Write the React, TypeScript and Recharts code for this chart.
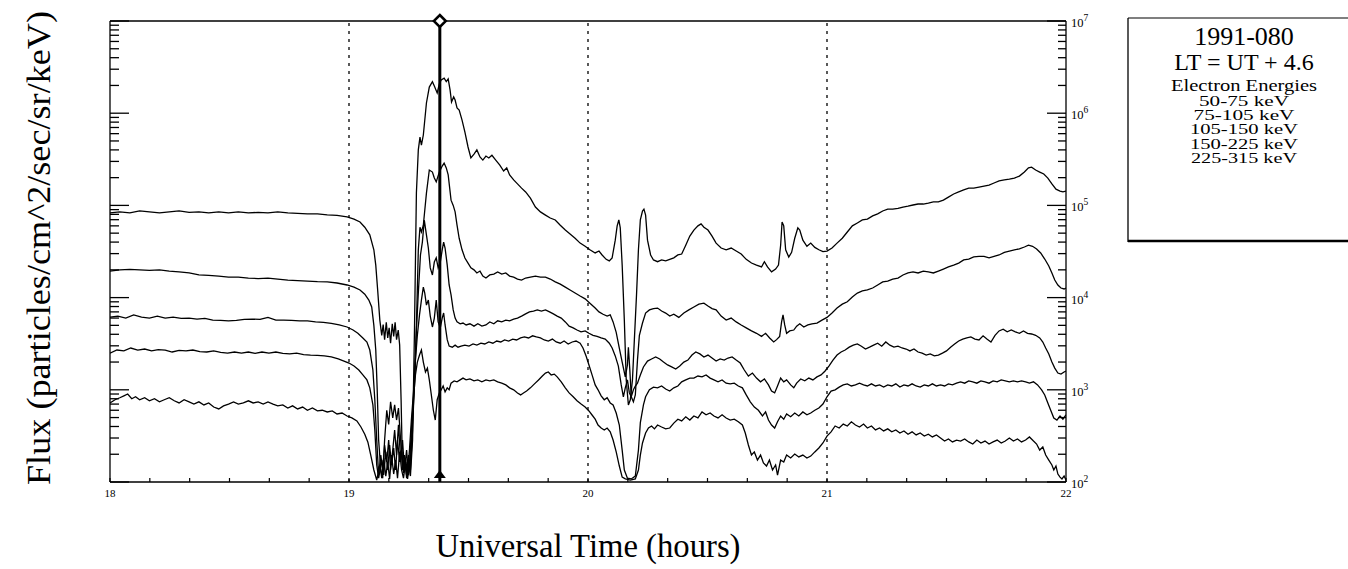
import React from "react";
import {
  LineChart,
  Line,
  XAxis,
  YAxis,
  ReferenceLine,
  ReferenceDot,
} from "recharts";

type Pt = [number, number];

// [UT hours, flux]
const S1_50_75: Pt[] = [[18.000,8.3e4],[18.041,8.5e4],[18.083,8.3e4],[18.124,8.7e4],[18.165,8.5e4],[18.207,8.3e4],[18.248,8.5e4],[18.289,8.7e4],[18.331,8.4e4],[18.372,8.5e4],[18.413,8.3e4],[18.455,8.5e4],[18.496,8.3e4],[18.537,8.5e4],[18.579,8.3e4],[18.620,8.4e4],[18.661,8.3e4],[18.702,8.5e4],[18.744,8.3e4],[18.785,8.2e4],[18.826,8.1e4],[18.868,8.1e4],[18.909,7.9e4],[18.950,7.8e4],[18.992,7.5e4],[19.021,7.1e4],[19.046,6.6e4],[19.066,5.8e4],[19.087,4.8e4],[19.104,3.3e4],[19.112,2.25e4],[19.120,1.2e4],[19.129,5.7e3],[19.137,3.9e3],[19.143,5.1e3],[19.149,3.5e3],[19.156,5.4e3],[19.162,3.65e3],[19.168,4.7e3],[19.174,3.2e3],[19.181,5.2e3],[19.187,3.8e3],[19.193,5.4e3],[19.199,3.5e3],[19.206,4.45e3],[19.212,3.05e3],[19.218,776],[19.224,135],[19.232,196],[19.241,110],[19.249,165],[19.257,116],[19.266,285],[19.274,4.5e3],[19.282,1.36e5],[19.290,4.0e5],[19.297,5.5e5],[19.303,4.5e5],[19.311,5.8e5],[19.324,1.29e6],[19.336,1.92e6],[19.349,2.2e6],[19.357,1.97e6],[19.369,1.66e6],[19.378,2.07e6],[19.386,2.3e6],[19.398,2.4e6],[19.407,2.2e6],[19.415,2.35e6],[19.423,1.78e6],[19.429,1.32e6],[19.438,1.5e6],[19.444,1.39e6],[19.452,1.14e6],[19.461,1.08e6],[19.473,8.4e5],[19.485,6.25e5],[19.498,4.3e5],[19.510,3.27e5],[19.523,3.6e5],[19.535,4.0e5],[19.548,3.35e5],[19.560,3.1e5],[19.573,3.43e5],[19.585,3.27e5],[19.598,3.5e5],[19.614,3.1e5],[19.631,2.74e5],[19.647,2.36e5],[19.660,2.55e5],[19.672,2.14e5],[19.689,1.89e5],[19.705,1.71e5],[19.722,1.54e5],[19.739,1.4e5],[19.759,1.2e5],[19.780,9.6e4],[19.801,8.5e4],[19.822,7.85e4],[19.842,7.3e4],[19.863,6.95e4],[19.884,6.1e4],[19.905,5.4e4],[19.925,4.9e4],[19.946,4.4e4],[19.967,3.9e4],[19.988,3.6e4],[20.008,3.3e4],[20.030,3.05e4],[20.046,3.2e4],[20.059,2.9e4],[20.076,2.6e4],[20.089,2.5e4],[20.101,2.7e4],[20.114,4.2e4],[20.122,6.0e4],[20.129,6.95e4],[20.135,5.7e4],[20.143,2.25e4],[20.152,5.7e3],[20.160,1.28e3],[20.169,685],[20.177,780],[20.186,1.28e3],[20.194,3.5e3],[20.203,1.07e4],[20.211,3.3e4],[20.219,6.95e4],[20.228,8.7e4],[20.234,9.1e4],[20.241,7.85e4],[20.249,4.2e4],[20.262,2.9e4],[20.274,2.56e4],[20.291,2.45e4],[20.308,2.56e4],[20.325,2.5e4],[20.342,2.6e4],[20.359,2.7e4],[20.376,2.9e4],[20.392,2.97e4],[20.409,3.7e4],[20.426,4.65e4],[20.443,5.4e4],[20.460,6.0e4],[20.473,6.3e4],[20.485,5.8e4],[20.502,5.4e4],[20.519,4.65e4],[20.536,3.9e4],[20.557,3.45e4],[20.578,3.3e4],[20.599,3.45e4],[20.620,3.2e4],[20.641,2.97e4],[20.662,2.6e4],[20.684,2.37e4],[20.705,2.25e4],[20.726,2.15e4],[20.738,2.45e4],[20.751,2.15e4],[20.768,1.9e4],[20.785,2.04e4],[20.797,2.25e4],[20.806,3.7e4],[20.812,6.6e4],[20.819,6.0e4],[20.827,3.3e4],[20.840,2.75e4],[20.852,3.1e4],[20.865,4.4e4],[20.878,5.7e4],[20.886,5.4e4],[20.899,4.2e4],[20.916,3.6e4],[20.932,3.9e4],[20.949,3.5e4],[20.966,3.3e4],[20.983,3.15e4],[21.000,3.2e4],[21.021,3.45e4],[21.042,3.9e4],[21.064,4.4e4],[21.085,5.15e4],[21.106,6.0e4],[21.127,6.45e4],[21.148,6.95e4],[21.169,7.1e4],[21.191,7.7e4],[21.212,8.1e4],[21.233,8.7e4],[21.254,9.1e4],[21.275,9.1e4],[21.297,9.3e4],[21.318,9.6e4],[21.339,9.8e4],[21.360,1.01e5],[21.381,1.035e5],[21.403,1.035e5],[21.424,1.06e5],[21.445,1.09e5],[21.466,1.09e5],[21.487,1.14e5],[21.508,1.23e5],[21.530,1.33e5],[21.551,1.4e5],[21.572,1.47e5],[21.593,1.54e5],[21.614,1.54e5],[21.636,1.58e5],[21.657,1.62e5],[21.678,1.66e5],[21.699,1.75e5],[21.720,1.84e5],[21.742,1.89e5],[21.763,1.93e5],[21.784,1.98e5],[21.805,2.08e5],[21.826,2.3e5],[21.843,2.55e5],[21.856,2.6e5],[21.873,2.42e5],[21.890,2.3e5],[21.907,2.19e5],[21.924,1.98e5],[21.941,1.71e5],[21.958,1.5e5],[21.975,1.43e5],[21.987,1.4e5],[22.000,1.43e5]];

const S2_75_105: Pt[] = [[18.000,1.94e4],[18.041,2.0e4],[18.083,2.02e4],[18.124,2.0e4],[18.165,1.97e4],[18.207,2.0e4],[18.248,1.94e4],[18.289,1.9e4],[18.331,1.85e4],[18.372,1.76e4],[18.413,1.74e4],[18.455,1.71e4],[18.496,1.67e4],[18.537,1.67e4],[18.579,1.63e4],[18.620,1.61e4],[18.661,1.63e4],[18.702,1.59e4],[18.744,1.55e4],[18.785,1.53e4],[18.826,1.51e4],[18.868,1.49e4],[18.909,1.48e4],[18.950,1.44e4],[18.992,1.37e4],[19.021,1.3e4],[19.046,1.21e4],[19.066,1.09e4],[19.083,9.4e3],[19.095,7.9e3],[19.104,5.0e3],[19.112,2.7e3],[19.118,1.0e3],[19.124,285],[19.133,135],[19.141,110],[19.149,285],[19.158,600],[19.166,420],[19.174,740],[19.183,495],[19.191,685],[19.199,470],[19.207,635],[19.216,285],[19.224,135],[19.232,173],[19.241,119],[19.249,196],[19.257,135],[19.266,367],[19.274,1.28e3],[19.282,4.8e3],[19.290,3.3e4],[19.297,5.8e4],[19.303,5.15e4],[19.311,6.1e4],[19.324,1.36e5],[19.336,2.42e5],[19.349,2.3e5],[19.357,1.98e5],[19.365,1.8e5],[19.378,2.3e5],[19.390,2.67e5],[19.398,2.88e5],[19.407,2.55e5],[19.415,2.14e5],[19.427,1.14e5],[19.436,1.0e5],[19.444,8.5e4],[19.452,6.1e4],[19.461,4.4e4],[19.473,3.3e4],[19.485,2.69e4],[19.498,2.37e4],[19.510,2.1e4],[19.523,2.0e4],[19.535,1.85e4],[19.548,1.94e4],[19.560,1.71e4],[19.573,1.63e4],[19.589,1.76e4],[19.606,1.8e4],[19.622,1.9e4],[19.639,1.8e4],[19.656,1.85e4],[19.672,1.71e4],[19.689,1.67e4],[19.705,1.59e4],[19.722,1.55e4],[19.739,1.63e4],[19.759,1.67e4],[19.780,1.71e4],[19.801,1.67e4],[19.822,1.67e4],[19.842,1.59e4],[19.863,1.48e4],[19.884,1.4e4],[19.905,1.3e4],[19.925,1.21e4],[19.946,1.12e4],[19.967,1.04e4],[19.988,9.7e3],[20.008,8.7e3],[20.030,7.7e3],[20.046,7.0e3],[20.063,6.6e3],[20.080,6.3e3],[20.093,6.5e3],[20.105,5.45e3],[20.118,4.2e3],[20.131,2.84e3],[20.143,2.0e3],[20.156,1.38e3],[20.165,1.86e3],[20.169,2.9e3],[20.175,1.64e3],[20.181,840],[20.190,740],[20.198,880],[20.207,2.1e3],[20.215,3.9e3],[20.228,5.3e3],[20.241,6.8e3],[20.257,7.35e3],[20.274,7.6e3],[20.291,7.7e3],[20.308,7.15e3],[20.325,6.8e3],[20.342,6.3e3],[20.359,6.6e3],[20.380,6.1e3],[20.401,6.8e3],[20.422,7.35e3],[20.443,7.9e3],[20.464,8.5e3],[20.485,8.7e3],[20.502,8.1e3],[20.519,7.6e3],[20.536,7.35e3],[20.557,6.3e3],[20.578,5.7e3],[20.599,6.0e3],[20.620,5.45e3],[20.641,5.05e3],[20.662,4.7e3],[20.684,4.35e3],[20.705,4.1e3],[20.726,3.8e3],[20.743,4.1e3],[20.760,3.65e3],[20.777,3.3e3],[20.789,3.5e3],[20.802,3.8e3],[20.810,5.45e3],[20.816,6.5e3],[20.823,5.05e3],[20.831,4.1e3],[20.844,4.35e3],[20.861,4.45e3],[20.873,4.9e3],[20.886,5.2e3],[20.903,4.8e3],[20.920,5.05e3],[20.937,5.2e3],[20.958,5.3e3],[20.979,5.7e3],[21.000,6.1e3],[21.021,6.8e3],[21.042,7.7e3],[21.064,8.5e3],[21.085,9.0e3],[21.106,1.015e4],[21.127,1.12e4],[21.148,1.18e4],[21.169,1.21e4],[21.191,1.27e4],[21.212,1.37e4],[21.233,1.48e4],[21.254,1.51e4],[21.275,1.59e4],[21.297,1.63e4],[21.318,1.76e4],[21.339,1.85e4],[21.360,1.9e4],[21.381,1.85e4],[21.403,1.94e4],[21.424,1.9e4],[21.445,1.85e4],[21.466,1.94e4],[21.487,2.04e4],[21.508,2.15e4],[21.530,2.25e4],[21.551,2.37e4],[21.572,2.56e4],[21.593,2.62e4],[21.614,2.76e4],[21.636,2.8e4],[21.657,2.8e4],[21.678,2.7e4],[21.699,2.8e4],[21.720,2.9e4],[21.742,3.1e4],[21.763,3.2e4],[21.784,3.3e4],[21.805,3.37e4],[21.826,3.54e4],[21.843,3.7e4],[21.860,3.6e4],[21.877,3.37e4],[21.894,3.05e4],[21.911,2.62e4],[21.928,2.2e4],[21.941,1.85e4],[21.953,1.55e4],[21.966,1.37e4],[21.979,1.27e4],[21.992,1.24e4],[22.000,1.27e4]];

const S3_105_150: Pt[] = [[18.000,6.15e3],[18.033,6.3e3],[18.066,6.0e3],[18.099,6.5e3],[18.132,6.15e3],[18.165,6.0e3],[18.198,6.3e3],[18.231,6.0e3],[18.264,6.15e3],[18.298,5.95e3],[18.331,6.0e3],[18.364,5.85e3],[18.397,5.95e3],[18.430,5.7e3],[18.463,5.65e3],[18.496,5.6e3],[18.529,5.65e3],[18.562,5.8e3],[18.595,5.85e3],[18.628,5.8e3],[18.661,6.1e3],[18.694,5.7e3],[18.727,5.7e3],[18.760,5.65e3],[18.793,5.6e3],[18.826,5.6e3],[18.860,5.45e3],[18.893,5.4e3],[18.926,5.25e3],[18.959,5.05e3],[18.992,4.8e3],[19.017,4.45e3],[19.037,4.1e3],[19.058,3.65e3],[19.075,3.3e3],[19.087,2.7e3],[19.100,1.64e3],[19.108,780],[19.116,285],[19.124,119],[19.133,196],[19.141,135],[19.149,252],[19.158,165],[19.166,285],[19.174,135],[19.183,222],[19.191,367],[19.199,196],[19.207,417],[19.216,173],[19.224,285],[19.232,135],[19.241,222],[19.249,119],[19.257,173],[19.266,470],[19.274,1.13e3],[19.282,4.45e3],[19.290,1.12e4],[19.299,2.9e4],[19.307,4.0e4],[19.315,6.95e4],[19.324,4.8e4],[19.332,3.45e4],[19.340,2.1e4],[19.349,1.76e4],[19.357,2.43e4],[19.365,2.7e4],[19.373,2.1e4],[19.382,2.43e4],[19.390,3.3e4],[19.396,4.0e4],[19.402,3.45e4],[19.411,2.25e4],[19.419,1.37e4],[19.427,1.07e4],[19.436,7.35e3],[19.444,6.0e3],[19.452,5.45e3],[19.465,5.2e3],[19.477,5.3e3],[19.490,5.05e3],[19.506,5.2e3],[19.523,4.9e3],[19.539,5.2e3],[19.556,4.9e3],[19.573,5.05e3],[19.589,5.45e3],[19.606,5.2e3],[19.622,5.6e3],[19.639,5.45e3],[19.656,5.7e3],[19.672,5.6e3],[19.689,5.85e3],[19.705,6.0e3],[19.722,6.3e3],[19.739,6.65e3],[19.755,7.0e3],[19.772,7.15e3],[19.788,7.35e3],[19.805,7.15e3],[19.822,7.35e3],[19.839,7.0e3],[19.855,6.65e3],[19.871,6.3e3],[19.888,6.0e3],[19.905,5.45e3],[19.921,4.9e3],[19.938,4.7e3],[19.954,4.45e3],[19.971,4.25e3],[19.988,4.35e3],[20.004,4.1e3],[20.021,3.9e3],[20.038,3.8e3],[20.055,3.65e3],[20.072,3.55e3],[20.089,3.2e3],[20.101,2.84e3],[20.114,2.33e3],[20.127,1.81e3],[20.139,1.13e3],[20.148,840],[20.156,1.05e3],[20.165,1.28e3],[20.173,925],[20.181,840],[20.190,1.0e3],[20.198,1.1e3],[20.207,1.18e3],[20.219,1.45e3],[20.232,1.77e3],[20.249,2.05e3],[20.266,2.16e3],[20.283,2.27e3],[20.300,2.16e3],[20.316,2.0e3],[20.333,1.86e3],[20.350,1.77e3],[20.367,1.68e3],[20.384,1.81e3],[20.401,2.0e3],[20.418,2.1e3],[20.435,2.38e3],[20.451,2.57e3],[20.468,2.45e3],[20.485,2.27e3],[20.502,2.38e3],[20.519,2.21e3],[20.536,2.05e3],[20.553,2.16e3],[20.570,2.1e3],[20.586,2.21e3],[20.603,2.27e3],[20.620,2.1e3],[20.637,1.95e3],[20.654,1.64e3],[20.671,1.41e3],[20.688,1.52e3],[20.705,1.34e3],[20.722,1.22e3],[20.738,1.31e3],[20.755,1.13e3],[20.768,970],[20.781,925],[20.793,1.1e3],[20.806,1.34e3],[20.819,1.22e3],[20.831,1.28e3],[20.848,1.13e3],[20.861,1.05e3],[20.873,1.18e3],[20.890,1.31e3],[20.907,1.25e3],[20.924,1.34e3],[20.941,1.28e3],[20.958,1.38e3],[20.975,1.45e3],[20.992,1.6e3],[21.008,1.81e3],[21.025,2.1e3],[21.042,2.38e3],[21.059,2.57e3],[21.076,2.7e3],[21.093,2.9e3],[21.110,3.05e3],[21.127,3.14e3],[21.144,2.97e3],[21.161,2.77e3],[21.178,2.9e3],[21.195,3.05e3],[21.212,3.2e3],[21.229,2.97e3],[21.246,3.3e3],[21.263,3.05e3],[21.280,2.9e3],[21.297,2.97e3],[21.314,2.84e3],[21.331,2.77e3],[21.347,2.64e3],[21.364,2.77e3],[21.381,2.57e3],[21.398,2.5e3],[21.415,2.38e3],[21.432,2.45e3],[21.449,2.33e3],[21.466,2.38e3],[21.483,2.5e3],[21.500,2.64e3],[21.517,2.9e3],[21.534,3.14e3],[21.551,3.38e3],[21.568,3.55e3],[21.585,3.65e3],[21.602,3.74e3],[21.619,3.55e3],[21.636,3.47e3],[21.653,3.85e3],[21.669,3.55e3],[21.686,3.3e3],[21.703,3.9e3],[21.720,4.35e3],[21.737,4.55e3],[21.754,4.25e3],[21.771,4.45e3],[21.788,4.25e3],[21.805,4.1e3],[21.822,4.35e3],[21.839,4.1e3],[21.856,4.03e3],[21.873,3.9e3],[21.890,3.65e3],[21.903,3.3e3],[21.915,2.84e3],[21.928,2.45e3],[21.941,2.0e3],[21.953,1.72e3],[21.966,1.52e3],[21.979,1.48e3],[21.992,1.56e3],[22.000,1.6e3]];

const S4_150_225: Pt[] = [[18.000,2.5e3],[18.029,2.7e3],[18.058,2.64e3],[18.087,2.84e3],[18.116,2.7e3],[18.145,2.77e3],[18.174,2.64e3],[18.202,2.73e3],[18.231,2.7e3],[18.260,2.57e3],[18.289,2.67e3],[18.318,2.64e3],[18.347,2.7e3],[18.376,2.6e3],[18.405,2.57e3],[18.434,2.64e3],[18.463,2.55e3],[18.492,2.5e3],[18.521,2.57e3],[18.550,2.5e3],[18.579,2.57e3],[18.607,2.48e3],[18.636,2.57e3],[18.665,2.5e3],[18.694,2.57e3],[18.723,2.48e3],[18.752,2.45e3],[18.781,2.5e3],[18.810,2.41e3],[18.839,2.38e3],[18.868,2.36e3],[18.897,2.33e3],[18.926,2.27e3],[18.955,2.16e3],[18.979,2.05e3],[19.000,1.95e3],[19.021,1.81e3],[19.041,1.64e3],[19.058,1.45e3],[19.075,1.28e3],[19.087,1.05e3],[19.100,685],[19.108,367],[19.116,153],[19.124,110],[19.137,173],[19.145,119],[19.154,212],[19.162,135],[19.170,252],[19.178,153],[19.187,234],[19.195,135],[19.203,285],[19.212,165],[19.220,222],[19.228,125],[19.237,182],[19.245,116],[19.253,222],[19.261,470],[19.270,950],[19.278,2.1e3],[19.286,3.9e3],[19.295,6.5e3],[19.303,9.4e3],[19.311,1.3e4],[19.317,1.12e4],[19.324,8.3e3],[19.332,9.4e3],[19.340,6.3e3],[19.349,4.8e3],[19.357,6.0e3],[19.365,9.4e3],[19.373,5.45e3],[19.382,4.7e3],[19.390,6.0e3],[19.396,6.8e3],[19.402,5.05e3],[19.411,3.5e3],[19.419,2.98e3],[19.432,2.9e3],[19.444,3.05e3],[19.456,2.9e3],[19.469,2.98e3],[19.485,3.05e3],[19.502,2.98e3],[19.519,3.14e3],[19.535,3.05e3],[19.552,3.2e3],[19.568,3.14e3],[19.585,3.3e3],[19.602,3.2e3],[19.618,3.38e3],[19.635,3.3e3],[19.651,3.47e3],[19.668,3.38e3],[19.685,3.55e3],[19.701,3.47e3],[19.718,3.65e3],[19.734,3.74e3],[19.751,3.65e3],[19.768,3.85e3],[19.784,3.74e3],[19.801,3.65e3],[19.817,3.47e3],[19.834,3.38e3],[19.851,3.55e3],[19.867,3.3e3],[19.884,3.2e3],[19.900,3.38e3],[19.917,3.14e3],[19.934,3.3e3],[19.950,3.38e3],[19.967,3.2e3],[19.979,2.84e3],[19.992,2.33e3],[20.004,1.86e3],[20.017,1.45e3],[20.030,1.13e3],[20.042,1.0e3],[20.055,860],[20.068,780],[20.080,820],[20.093,720],[20.105,685],[20.118,560],[20.131,415],[20.143,222],[20.152,135],[20.165,110],[20.181,108],[20.198,116],[20.211,222],[20.219,440],[20.232,685],[20.241,840],[20.257,1.0e3],[20.274,1.07e3],[20.291,1.05e3],[20.308,1.1e3],[20.325,1.02e3],[20.342,970],[20.359,1.05e3],[20.376,1.1e3],[20.392,1.22e3],[20.409,1.28e3],[20.426,1.34e3],[20.443,1.34e3],[20.460,1.41e3],[20.477,1.38e3],[20.494,1.45e3],[20.511,1.34e3],[20.527,1.28e3],[20.544,1.22e3],[20.561,1.28e3],[20.578,1.18e3],[20.595,1.16e3],[20.612,1.18e3],[20.629,1.1e3],[20.646,1.05e3],[20.662,880],[20.679,740],[20.696,650],[20.713,600],[20.730,520],[20.743,575],[20.755,470],[20.768,415],[20.781,385],[20.793,450],[20.806,520],[20.819,480],[20.831,547],[20.848,510],[20.865,560],[20.882,520],[20.899,575],[20.916,535],[20.932,560],[20.949,600],[20.966,635],[20.983,700],[21.000,840],[21.017,970],[21.034,1.0e3],[21.051,1.07e3],[21.068,1.13e3],[21.085,1.16e3],[21.102,1.1e3],[21.119,1.13e3],[21.136,1.18e3],[21.153,1.13e3],[21.169,1.1e3],[21.186,1.16e3],[21.203,1.1e3],[21.220,1.13e3],[21.237,1.07e3],[21.254,1.13e3],[21.271,1.1e3],[21.288,1.16e3],[21.305,1.07e3],[21.322,1.13e3],[21.339,1.1e3],[21.356,1.16e3],[21.373,1.1e3],[21.390,1.07e3],[21.407,1.13e3],[21.424,1.1e3],[21.441,1.16e3],[21.458,1.1e3],[21.475,1.13e3],[21.492,1.1e3],[21.508,1.16e3],[21.525,1.13e3],[21.542,1.18e3],[21.559,1.22e3],[21.576,1.18e3],[21.593,1.25e3],[21.610,1.22e3],[21.627,1.18e3],[21.644,1.25e3],[21.661,1.22e3],[21.678,1.18e3],[21.695,1.25e3],[21.712,1.22e3],[21.729,1.28e3],[21.746,1.25e3],[21.763,1.22e3],[21.780,1.25e3],[21.797,1.22e3],[21.814,1.25e3],[21.831,1.22e3],[21.847,1.18e3],[21.864,1.22e3],[21.881,1.13e3],[21.898,1.0e3],[21.911,880],[21.924,720],[21.936,600],[21.949,495],[21.962,470],[21.975,520],[21.987,480],[22.000,535]];

const S5_225_315: Pt[] = [[18.000,720],[18.021,780],[18.041,820],[18.058,860],[18.074,900],[18.091,800],[18.107,840],[18.124,780],[18.145,820],[18.165,760],[18.186,800],[18.207,740],[18.227,780],[18.248,820],[18.269,760],[18.289,720],[18.310,780],[18.331,740],[18.351,700],[18.372,740],[18.393,685],[18.413,720],[18.434,650],[18.455,620],[18.475,670],[18.496,700],[18.517,740],[18.537,700],[18.558,720],[18.579,760],[18.599,720],[18.620,740],[18.641,700],[18.661,740],[18.682,700],[18.702,670],[18.723,685],[18.744,635],[18.764,670],[18.785,620],[18.806,650],[18.826,600],[18.847,635],[18.868,590],[18.888,600],[18.909,575],[18.930,590],[18.950,547],[18.971,560],[18.992,520],[19.012,495],[19.033,460],[19.050,395],[19.066,330],[19.079,270],[19.091,196],[19.104,135],[19.116,105],[19.129,153],[19.137,110],[19.145,182],[19.154,116],[19.162,165],[19.170,108],[19.178,196],[19.187,122],[19.195,173],[19.203,110],[19.212,212],[19.220,135],[19.228,110],[19.237,165],[19.245,108],[19.253,153],[19.261,367],[19.270,820],[19.278,1.45e3],[19.286,2.0e3],[19.295,2.38e3],[19.303,2.7e3],[19.311,2.0e3],[19.320,1.56e3],[19.328,1.72e3],[19.336,1.28e3],[19.344,900],[19.353,600],[19.361,470],[19.369,780],[19.378,925],[19.386,1.0e3],[19.394,1.1e3],[19.402,950],[19.411,1.05e3],[19.419,1.0e3],[19.427,1.18e3],[19.440,1.25e3],[19.452,1.22e3],[19.465,1.28e3],[19.477,1.34e3],[19.490,1.28e3],[19.506,1.31e3],[19.523,1.25e3],[19.539,1.28e3],[19.556,1.22e3],[19.573,1.28e3],[19.589,1.25e3],[19.606,1.28e3],[19.622,1.22e3],[19.639,1.18e3],[19.656,1.13e3],[19.672,1.05e3],[19.689,1.0e3],[19.705,925],[19.718,880],[19.730,925],[19.743,970],[19.759,1.05e3],[19.776,1.16e3],[19.793,1.28e3],[19.809,1.41e3],[19.822,1.52e3],[19.834,1.56e3],[19.846,1.45e3],[19.859,1.48e3],[19.871,1.38e3],[19.888,1.22e3],[19.905,1.05e3],[19.921,925],[19.938,840],[19.954,760],[19.971,700],[19.988,650],[20.004,590],[20.017,533],[20.030,480],[20.042,415],[20.055,385],[20.068,367],[20.080,385],[20.093,350],[20.105,285],[20.118,212],[20.131,149],[20.143,113],[20.156,108],[20.177,105],[20.198,108],[20.211,135],[20.219,196],[20.228,265],[20.241,340],[20.253,385],[20.266,405],[20.278,377],[20.291,415],[20.308,395],[20.325,377],[20.342,385],[20.359,435],[20.376,480],[20.392,460],[20.409,510],[20.426,470],[20.443,520],[20.460,495],[20.477,575],[20.494,535],[20.511,560],[20.527,520],[20.544,495],[20.561,535],[20.578,495],[20.595,470],[20.612,480],[20.629,450],[20.646,415],[20.658,340],[20.671,252],[20.684,196],[20.696,212],[20.709,173],[20.722,196],[20.734,161],[20.747,149],[20.759,173],[20.772,135],[20.785,153],[20.793,119],[20.806,173],[20.819,165],[20.831,196],[20.848,182],[20.865,201],[20.882,187],[20.899,196],[20.916,182],[20.932,191],[20.949,212],[20.966,234],[20.983,265],[21.000,315],[21.017,350],[21.034,405],[21.051,385],[21.068,425],[21.085,405],[21.102,450],[21.119,415],[21.136,395],[21.153,425],[21.169,385],[21.186,405],[21.203,367],[21.220,385],[21.237,358],[21.254,377],[21.271,350],[21.288,367],[21.305,340],[21.322,358],[21.339,330],[21.356,350],[21.373,324],[21.390,340],[21.407,315],[21.424,330],[21.441,308],[21.458,324],[21.475,300],[21.492,278],[21.508,293],[21.525,272],[21.542,285],[21.559,278],[21.576,293],[21.593,272],[21.610,258],[21.627,285],[21.644,265],[21.661,278],[21.678,258],[21.695,272],[21.712,285],[21.729,265],[21.746,278],[21.763,300],[21.780,278],[21.797,293],[21.814,272],[21.831,285],[21.847,308],[21.864,278],[21.877,258],[21.890,222],[21.903,240],[21.915,196],[21.928,173],[21.941,153],[21.949,135],[21.958,149],[21.966,122],[21.975,113],[21.983,108],[21.992,116],[22.000,105]];

const SERIES: Pt[][] = [S1_50_75, S2_75_105, S3_105_150, S4_150_225, S5_225_315];

const X_TICKS: number[] = Array.from({ length: 25 }, (_, i) => 18 + i / 6);
const X_LABELS: number[] = [18, 19, 20, 21, 22];
const DOTTED_HOURS: number[] = [19, 20, 21];
const MARKER_HOUR = 19.38;
const Y_DOMAIN: [number, number] = [100, 1e7];
const Y_TICKS: number[] = (() => {
  const t: number[] = [];
  for (let n = 2; n <= 6; n++) for (let k = 1; k <= 9; k++) t.push(k * Math.pow(10, n));
  t.push(1e7);
  return t;
})();

const TITLE = "1991-080";
const SUBTITLE = "LT = UT + 4.6";
const LEGEND_HEAD = "Electron Energies";
const ENERGY_LABELS = ["50-75 keV", "75-105 keV", "105-150 keV", "150-225 keV", "225-315 keV"];
const ENERGY_WIDTHS = [90, 101, 108, 108, 106];

const FONT = "'Liberation Serif', 'Times New Roman', serif";

const isMajor = (v: number) => {
  const e = Math.log10(v);
  return Math.abs(e - Math.round(e)) < 1e-6;
};

const LeftTick = (props: any) => {
  const { x, y, payload } = props;
  const len = isMajor(payload.value) ? 19 : 9;
  return <line x1={x} y1={y} x2={x + len} y2={y} stroke="#000" strokeWidth={1.3} />;
};

const RightTick = (props: any) => {
  const { x, y, payload } = props;
  const major = isMajor(payload.value);
  const len = major ? 19 : 8;
  const e = Math.round(Math.log10(payload.value));
  return (
    <g>
      <line x1={x} y1={y} x2={x - len} y2={y} stroke="#000" strokeWidth={1.3} />
      {major && (
        <text x={x + 5} y={y + 6} fontSize={12.5} fontFamily={FONT} fill="#000">
          10
          <tspan dy={-6} fontSize={9.5}>{e}</tspan>
        </text>
      )}
    </g>
  );
};

const BottomTick = (props: any) => {
  const { x, y, payload } = props;
  const v = payload.value;
  const label = X_LABELS.find((h) => Math.abs(h - v) < 1e-6);
  return (
    <g>
      <line x1={x} y1={y} x2={x} y2={y - 4} stroke="#000" strokeWidth={1.2} />
      {label !== undefined && (
        <text x={x} y={y + 15} fontSize={11} textAnchor="middle" fontFamily={FONT} fill="#000">
          {label}
        </text>
      )}
    </g>
  );
};

const Diamond = (props: any) => {
  const { cx, cy } = props;
  const r = 6;
  return (
    <polygon
      points={`${cx},${cy - r} ${cx + r},${cy} ${cx},${cy + r} ${cx - r},${cy}`}
      fill="#fff"
      stroke="#000"
      strokeWidth={2.5}
    />
  );
};

const Triangle = (props: any) => {
  const { cx, cy } = props;
  return <polygon points={`${cx - 6},${cy - 4} ${cx + 6},${cy - 4} ${cx},${cy - 12}`} fill="#000" />;
};

export default function App() {
  return (
    <div style={{ position: "absolute", left: 0, top: 0, width: 1348, height: 569, overflow: "hidden", background: "#fff" }}>
      <LineChart
        width={1348}
        height={569}
        margin={{ top: 21, right: 232, bottom: 57, left: 80 }}
      >
        <XAxis
          dataKey="h"
          type="number"
          domain={[18, 22]}
          ticks={X_TICKS}
          interval={0}
          allowDataOverflow
          height={30}
          tickSize={0}
          tickMargin={0}
          tick={<BottomTick />}
          axisLine={{ stroke: "#000", strokeWidth: 1.3 }}
          tickLine={false}
        />
        <YAxis
          yAxisId="left"
          scale="log"
          domain={Y_DOMAIN}
          allowDataOverflow
          ticks={Y_TICKS}
          interval={0}
          width={30}
          tickSize={0}
          tickMargin={0}
          tick={<LeftTick />}
          axisLine={{ stroke: "#000", strokeWidth: 1.3 }}
          tickLine={false}
        />
        <YAxis
          yAxisId="right"
          orientation="right"
          scale="log"
          domain={Y_DOMAIN}
          allowDataOverflow
          ticks={Y_TICKS}
          interval={0}
          width={50}
          tickSize={0}
          tickMargin={0}
          tick={<RightTick />}
          axisLine={{ stroke: "#000", strokeWidth: 1.3 }}
          tickLine={false}
        />
        <ReferenceLine yAxisId="left" y={1e7} stroke="#000" strokeWidth={1.3} />
        {DOTTED_HOURS.map((h) => (
          <ReferenceLine key={h} yAxisId="left" x={h} stroke="#000" strokeWidth={1.3} strokeDasharray="3 5" />
        ))}
        {SERIES.map((s, i) => (
          <Line
            key={i}
            yAxisId="left"
            data={s.map(([h, f]) => ({ h, f }))}
            dataKey="f"
            type="linear"
            stroke="#000"
            strokeWidth={1.3}
            dot={false}
            isAnimationActive={false}
          />
        ))}
        <ReferenceLine yAxisId="left" x={MARKER_HOUR} stroke="#000" strokeWidth={3} />
        <ReferenceDot yAxisId="left" x={MARKER_HOUR} y={1e7} ifOverflow="visible" shape={<Diamond />} />
        <ReferenceDot yAxisId="left" x={MARKER_HOUR} y={100} ifOverflow="visible" shape={<Triangle />} />
      </LineChart>
      <svg
        width={1348}
        height={569}
        style={{ position: "absolute", left: 0, top: 0, pointerEvents: "none" }}
      >
        <line x1={1128} y1={18} x2={1348} y2={18} stroke="#000" strokeWidth={1.2} />
        <line x1={1128} y1={18} x2={1128} y2={242} stroke="#000" strokeWidth={1.3} />
        <line x1={1128} y1={241} x2={1348} y2={241} stroke="#000" strokeWidth={2.5} />
        <text x={1244} y={45} fontSize={26} textAnchor="middle" fontFamily={FONT}>{TITLE}</text>
        <text x={1244} y={70} fontSize={24} textAnchor="middle" fontFamily={FONT}>{SUBTITLE}</text>
        <text x={1244} y={91} fontSize={16} textAnchor="middle" fontFamily={FONT} textLength={146} lengthAdjust="spacingAndGlyphs">{LEGEND_HEAD}</text>
        {ENERGY_LABELS.map((t, i) => (
          <text key={t} x={1244} y={106 + i * 14.2} fontSize={14.5} textAnchor="middle" fontFamily={FONT} textLength={ENERGY_WIDTHS[i]} lengthAdjust="spacingAndGlyphs">{t}</text>
        ))}
        <text
          x={50}
          y={248}
          fontSize={34}
          textAnchor="middle"
          fontFamily={FONT}
          transform="rotate(-90 50 248)"
          textLength={474}
          lengthAdjust="spacingAndGlyphs"
        >
          Flux (particles/cm^2/sec/sr/keV)
        </text>
        <text x={588} y={557} fontSize={33} textAnchor="middle" fontFamily={FONT} textLength={305} lengthAdjust="spacingAndGlyphs">
          Universal Time (hours)
        </text>
      </svg>
    </div>
  );
}
